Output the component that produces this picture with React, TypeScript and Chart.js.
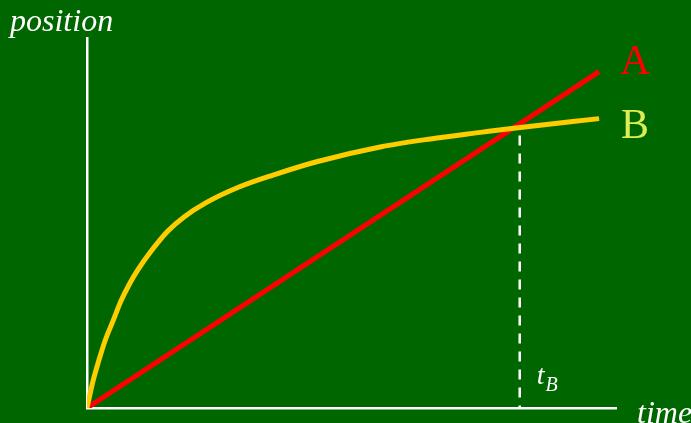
import React, { useEffect, useRef } from "react";
import { Chart, registerables } from "chart.js";

Chart.register(...registerables);

// Data (time units, position units)
const timeA = [0, 10];
const posA = [0, 10];
const timeB = [0, 0.118, 0.235, 0.353, 0.51, 0.667, 0.824, 0.986, 1.249, 1.575, 1.902, 2.327, 2.98, 3.633, 4.484, 5.725, 6.706, 7.686, 8.333, 10];
const posB = [0, 0.806, 1.433, 2.0, 2.597, 3.194, 3.672, 4.09, 4.657, 5.254, 5.687, 6.104, 6.576, 6.925, 7.322, 7.761, 8.0, 8.194, 8.319, 8.603];
const tB = 8.45;
const dashTop = 8.1;
const xMax = 10.33;
const yMax = 11.0;
const labels = { y: "position", x: "time", a: "A", b: "B", t: "t", sub: "B" };

const BG = "#006600";

const labelPlugin = {
  id: "labels",
  beforeDraw(chart: any) {
    const { ctx } = chart;
    ctx.save();
    ctx.fillStyle = BG;
    ctx.fillRect(0, 0, chart.width, chart.height);
    ctx.restore();
  },
  afterDraw(chart: any) {
    const { ctx, scales } = chart;
    const xs = scales.x;
    const ys = scales.y;
    ctx.save();
    ctx.textBaseline = "alphabetic";
    ctx.textAlign = "left";
    // axis titles
    ctx.fillStyle = "#ffffff";
    ctx.font = "italic 32px 'Liberation Serif', serif";
    ctx.fillText(labels.y, 10, 31);
    ctx.fillText(labels.x, xs.right + 21, ys.bottom + 15);
    // series labels
    const aEndX = xs.getPixelForValue(timeA[timeA.length - 1]);
    const aEndY = ys.getPixelForValue(posA[posA.length - 1]);
    const bEndY = ys.getPixelForValue(posB[posB.length - 1]);
    ctx.font = "42px 'Liberation Serif', serif";
    ctx.fillStyle = "#ff0000";
    ctx.fillText(labels.a, aEndX + 21, aEndY + 2);
    ctx.fillStyle = "#ddee55";
    ctx.fillText(labels.b, aEndX + 22, bEndY + 19);
    // t_B
    const tx = xs.getPixelForValue(tB);
    ctx.fillStyle = "#ffffff";
    ctx.font = "italic 28px 'Liberation Serif', serif";
    ctx.fillText(labels.t, tx + 17, ys.bottom - 24);
    const tw = ctx.measureText(labels.t).width;
    ctx.font = "italic 20px 'Liberation Serif', serif";
    ctx.fillText(labels.sub, tx + 17 + tw + 1, ys.bottom - 17);
    ctx.restore();
  },
};

export default function App() {
  const ref = useRef<HTMLCanvasElement | null>(null);
  useEffect(() => {
    if (!ref.current) return;
    const chart = new Chart(ref.current, {
      type: "line",
      data: {
        datasets: [
          {
            label: "B",
            data: timeB.map((t, i) => ({ x: t, y: posB[i] })),
            borderColor: "#ffcc00",
            borderWidth: 5,
            pointRadius: 0,
            cubicInterpolationMode: "monotone",
            fill: false,
            order: 0,
          },
          {
            label: "A",
            data: timeA.map((t, i) => ({ x: t, y: posA[i] })),
            borderColor: "#ff0000",
            borderWidth: 5,
            pointRadius: 0,
            fill: false,
            order: 1,
          },
          {
            label: "tB",
            data: [
              { x: tB, y: dashTop },
              { x: tB, y: 0 },
            ],
            borderColor: "#ffffff",
            borderWidth: 2.5,
            borderDash: [10, 8],
            pointRadius: 0,
            fill: false,
            order: 2,
          },
        ],
      },
      options: {
        responsive: false,
        devicePixelRatio: 1,
        animation: false,
        layout: { padding: { left: 87, top: 38, right: 75, bottom: 15 } },
        plugins: { legend: { display: false }, tooltip: { enabled: false } },
        scales: {
          x: {
            type: "linear",
            min: 0,
            max: xMax,
            grid: { display: false, drawTicks: false },
            ticks: { display: false },
            border: { display: true, color: "#ffffff", width: 2.5 },
          },
          y: {
            type: "linear",
            min: 0,
            max: yMax,
            grid: { display: false, drawTicks: false },
            ticks: { display: false },
            border: { display: true, color: "#ffffff", width: 2.5 },
          },
        },
      },
      plugins: [labelPlugin],
    } as any);
    return () => chart.destroy();
  }, []);
  return (
    <div style={{ position: "fixed", left: 0, top: 0, width: 691, height: 423, background: BG }}>
      <canvas ref={ref} width={691} height={423} style={{ display: "block" }} />
    </div>
  );
}
